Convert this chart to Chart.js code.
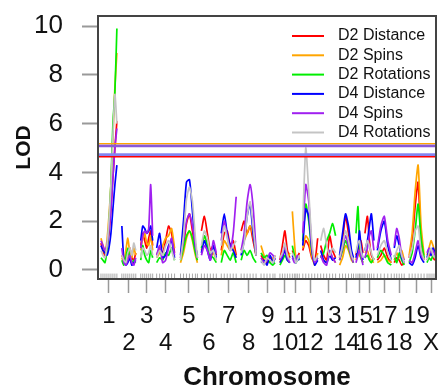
<!DOCTYPE html>
<html>
<head>
<meta charset="utf-8">
<script src="https://cdn.jsdelivr.net/npm/chart.js@4.4.1/dist/chart.umd.min.js"></script>
<style>
  html, body { margin: 0; padding: 0; background: #fff; }
</style>
</head>
<body>
<canvas id="lod-chart" width="441" height="389"></canvas>
<script>
const chromosomes = ["1", "2", "3", "4", "5", "6", "7", "8", "9", "10",
  "11", "12", "13", "14", "15", "16", "17", "18", "19", "X"];

// marker positions along the genome, one list per chromosome
const positions = [
  [3, 5, 7, 9, 11, 13, 15, 17, 19],
  [24, 26, 28, 30, 32, 34, 36, 38],
  [43, 45, 47, 49, 51, 53, 55],
  [59, 62, 65, 68, 71, 74, 77],
  [83, 86, 89, 92, 95, 98, 100],
  [104, 107, 110, 113, 116, 119],
  [124, 127, 130, 133, 136, 139],
  [144, 147, 150, 153, 156, 159],
  [164, 167, 170, 173, 176, 178],
  [183, 185.5, 188, 190.5, 193],
  [195.5, 197.5, 199, 200.5, 202.5],
  [206, 209, 212, 215, 218, 221],
  [224, 227, 230, 233, 236, 239],
  [243, 246, 249, 252, 255, 257],
  [259.5, 261.5, 263, 264.5, 266.5],
  [268.5, 271, 273, 275, 277.5],
  [281, 284.5, 288, 291.5, 295],
  [298, 300.5, 303, 305.5, 308],
  [313, 316, 319, 322, 325, 328],
  [331, 333, 335, 337, 339]
];

const d2Distance = [
  [1.1, 0.8, 0.6, 0.9, 1.5, 2.5, 3.8, 5.0, 6.1],
  [0.6, 0.4, 0.3, 0.6, 0.9, 0.5, 0.4, 0.7],
  [1.0, 1.5, 1.2, 0.9, 1.3, 1.6, 1.0],
  [0.6, 0.9, 0.7, 1.2, 1.8, 1.5, 0.7],
  [0.5, 1.0, 1.9, 2.3, 1.6, 0.8, 0.5],
  [1.6, 2.2, 1.5, 0.8, 1.0, 0.6],
  [0.8, 1.5, 1.6, 1.0, 1.2, 0.6],
  [1.6, 2.0, 1.5, 1.8, 1.2, 0.6],
  [0.6, 0.4, 0.3, 0.5, 0.4, 0.6],
  [0.4, 1.0, 1.6, 0.8, 0.5],
  [0.8, 0.6, 0.4, 0.5, 0.7],
  [0.8, 1.2, 1.0, 0.5, 0.3, 1.3],
  [1.0, 0.6, 0.4, 1.4, 0.8, 0.5],
  [0.5, 1.2, 2.2, 1.5, 0.6, 0.4],
  [0.6, 1.0, 0.8, 1.2, 0.7],
  [1.5, 2.2, 1.2, 0.6, 0.4],
  [0.4, 0.6, 0.9, 0.5, 0.3],
  [0.3, 0.5, 0.4, 0.2, 0.3],
  [0.5, 1.2, 2.6, 3.6, 1.2, 0.4],
  [0.4, 0.6, 0.8, 0.5, 0.4]
];

const d2Spins = [
  [1.3, 1.0, 0.7, 1.2, 2.2, 3.5, 5.5, 7.5, 8.9],
  [0.5, 0.3, 0.8, 1.3, 0.7, 0.5, 0.9, 0.6],
  [0.8, 1.3, 1.5, 1.1, 1.0, 1.4, 0.8],
  [0.5, 0.7, 1.0, 1.3, 1.4, 1.7, 0.9],
  [0.3, 0.7, 1.3, 1.6, 1.2, 0.6, 0.3],
  [0.8, 1.4, 1.0, 0.5, 0.7, 0.4],
  [0.6, 1.2, 1.0, 0.8, 0.9, 0.5],
  [0.8, 1.2, 1.5, 1.8, 1.4, 0.6],
  [1.0, 0.6, 0.4, 0.3, 0.5, 0.4],
  [0.3, 0.6, 0.9, 0.5, 0.7],
  [2.4, 1.2, 0.5, 0.4, 0.6],
  [0.9, 1.4, 1.2, 0.6, 0.2, 0.7],
  [0.6, 0.4, 0.3, 0.7, 0.5, 0.3],
  [0.2, 0.5, 1.0, 0.8, 0.4, 0.3],
  [0.4, 0.8, 0.6, 0.5, 0.3],
  [0.7, 0.8, 0.5, 0.4, 0.3],
  [0.3, 0.4, 0.6, 0.4, 0.3],
  [0.4, 0.7, 0.5, 0.8, 0.4],
  [0.6, 1.5, 3.2, 4.3, 1.8, 0.6],
  [0.6, 0.9, 1.2, 1.0, 0.7]
];

const d2Rotations = [
  [0.5, 0.4, 0.3, 0.8, 1.8, 3.5, 6.0, 7.3, 9.9],
  [0.4, 0.2, 0.5, 0.9, 0.5, 0.3, 0.4, 0.3],
  [0.4, 1.0, 0.6, 0.4, 0.3, 0.8, 0.5],
  [0.3, 0.5, 0.4, 0.7, 0.6, 0.9, 0.4],
  [0.4, 0.9, 1.4, 1.6, 1.3, 0.7, 0.4],
  [0.9, 1.4, 1.0, 0.6, 0.5, 0.3],
  [0.3, 0.8, 0.6, 0.4, 0.7, 0.3],
  [0.4, 0.8, 0.6, 0.8, 0.5, 0.3],
  [0.7, 0.5, 0.6, 0.3, 0.2, 0.3],
  [0.2, 0.4, 0.6, 0.4, 0.3],
  [1.0, 0.6, 0.3, 0.4, 0.5],
  [1.2, 2.7, 2.0, 0.8, 0.3, 0.5],
  [0.5, 0.7, 1.2, 1.5, 1.9, 1.4],
  [0.4, 0.8, 1.2, 0.9, 0.5, 0.3],
  [1.5, 2.6, 1.2, 0.5, 0.3],
  [0.5, 0.6, 0.4, 0.3, 0.5],
  [0.5, 0.8, 0.6, 0.3, 0.2],
  [0.6, 0.3, 0.7, 0.4, 0.2],
  [0.3, 0.7, 1.6, 2.7, 1.3, 0.5],
  [0.3, 0.5, 0.4, 0.6, 0.5]
];

const d4Distance = [
  [1.0, 0.8, 0.7, 0.6, 0.9, 1.5, 2.5, 3.5, 4.3],
  [1.8, 0.4, 0.2, 0.3, 0.5, 0.2, 0.3, 0.4],
  [1.2, 1.8, 1.7, 1.5, 1.6, 1.8, 1.2],
  [0.9, 1.5, 0.5, 0.6, 1.0, 1.2, 0.5],
  [0.6, 2.0, 3.6, 3.7, 2.4, 1.0, 0.6],
  [0.7, 1.2, 0.8, 0.4, 1.0, 0.5],
  [1.5, 2.3, 1.5, 1.0, 0.8, 0.5],
  [0.6, 1.2, 2.2, 2.7, 1.5, 0.6],
  [0.3, 0.4, 0.2, 0.6, 0.3, 0.5],
  [0.3, 0.5, 0.8, 0.4, 0.3],
  [0.6, 0.4, 0.3, 0.5, 0.4],
  [1.0, 2.5, 2.2, 0.9, 0.2, 0.4],
  [0.8, 0.4, 0.3, 0.6, 0.4, 0.5],
  [0.6, 1.5, 2.3, 1.8, 0.8, 0.5],
  [0.5, 0.9, 1.6, 1.0, 0.4],
  [0.8, 1.2, 1.8, 2.3, 1.2],
  [0.8, 1.6, 2.0, 1.0, 0.4],
  [0.9, 1.4, 1.0, 0.5, 0.3],
  [0.3, 0.2, 0.5, 1.0, 0.5, 0.3],
  [0.5, 0.8, 0.6, 0.9, 0.7]
];

const d4Spins = [
  [1.2, 1.0, 0.8, 1.0, 1.6, 2.5, 3.8, 5.0, 5.8],
  [0.9, 0.3, 0.2, 0.4, 0.6, 0.3, 0.2, 0.5],
  [0.9, 1.4, 1.6, 1.5, 1.7, 3.5, 1.4],
  [0.6, 1.0, 0.3, 0.4, 0.9, 1.3, 0.6],
  [0.5, 1.2, 2.0, 2.3, 1.8, 1.0, 0.5],
  [0.6, 1.0, 0.8, 0.4, 1.2, 0.7],
  [1.2, 2.0, 1.4, 0.8, 1.5, 3.0],
  [0.8, 1.5, 2.8, 3.5, 2.6, 0.8],
  [0.5, 0.3, 0.4, 0.7, 0.6, 0.4],
  [0.4, 0.6, 1.0, 0.5, 0.3],
  [0.5, 0.3, 0.4, 0.6, 0.5],
  [1.5, 3.5, 2.8, 1.0, 0.3, 0.5],
  [0.6, 0.3, 0.2, 0.8, 0.5, 0.3],
  [0.4, 0.9, 1.4, 1.0, 0.5, 0.3],
  [0.3, 0.6, 0.8, 0.6, 0.2],
  [0.5, 0.9, 1.4, 1.6, 0.8],
  [0.9, 1.8, 2.2, 1.2, 0.6],
  [1.0, 1.7, 1.3, 0.6, 0.4],
  [0.4, 0.3, 0.7, 1.2, 0.6, 0.4],
  [0.7, 0.9, 0.7, 0.8, 0.6]
];

const d4Rotations = [
  [0.8, 0.6, 0.5, 1.0, 2.0, 3.5, 5.5, 7.2, 6.0],
  [0.6, 0.4, 0.3, 0.7, 0.9, 0.6, 1.1, 0.8],
  [0.5, 0.9, 0.8, 0.6, 0.7, 1.0, 0.6],
  [0.5, 0.8, 0.6, 1.0, 1.2, 0.8, 0.4],
  [0.4, 1.4, 2.9, 3.4, 2.8, 1.3, 0.5],
  [1.0, 1.6, 1.3, 0.7, 0.8, 0.4],
  [1.0, 1.8, 1.3, 0.8, 1.0, 1.2],
  [0.7, 1.1, 2.2, 2.8, 1.8, 0.6],
  [0.4, 0.2, 0.5, 0.4, 0.3, 0.6],
  [0.5, 0.7, 1.1, 0.6, 0.4],
  [0.7, 0.5, 0.3, 0.4, 0.6],
  [2.0, 5.0, 3.2, 1.2, 0.4, 0.6],
  [1.2, 1.7, 1.0, 0.6, 0.9, 0.7],
  [0.5, 1.0, 1.6, 1.2, 0.6, 0.4],
  [0.7, 1.1, 1.2, 0.8, 0.5],
  [0.8, 1.2, 1.0, 0.7, 0.4],
  [0.6, 1.0, 1.2, 0.7, 0.4],
  [0.5, 0.8, 1.0, 0.6, 0.3],
  [0.5, 0.9, 1.6, 1.8, 0.8, 0.4],
  [0.4, 0.7, 0.9, 0.6, 0.5]
];

const seriesNames = ["D2 Distance", "D2 Spins", "D2 Rotations",
  "D4 Distance", "D4 Spins", "D4 Rotations"];
const seriesValues = [d2Distance, d2Spins, d2Rotations, d4Distance, d4Spins, d4Rotations];
const seriesColors = ["#ff0000", "#ffa500", "#00ee00", "#0000ff", "#a020f0", "#c4c4c4"];

// significance thresholds (LOD)
const thresholdValues = [5.18, 5.09, 4.73, 4.64];
const thresholdColors = ["#ffa500", "#8a5ad6", "#8484f0", "#ff0000"];
const thresholdWidths = [1.2, 2.8, 2.8, 1.5];

const yTicks = [0, 2, 4, 6, 8, 10];

const xMin = 0, xMax = 340;
const yMin = -0.37, yMax = 10.41;

// chromosome centers for the tick labels
const chrCenters = positions.map(p => (Math.min(...p) + Math.max(...p)) / 2);

function toSeries(values) {
  let out = [];
  positions.forEach((p, c) => {
    p.forEach((x, i) => out.push({ x: x, y: values[c][i] }));
    out.push({ x: p[p.length - 1] + 0.5, y: null }); // break between chromosomes
  });
  return out;
}

const datasets = [];

seriesNames.forEach((name, i) => {
  datasets.push({
    type: "line",
    label: name,
    data: toSeries(seriesValues[i]),
    borderColor: seriesColors[i],
    borderWidth: 1.7,
    pointRadius: 0,
    tension: 0.2,
    spanGaps: false,
    order: 10 - i,
  });
});

thresholdValues.forEach((t, i) => {
  datasets.push({
    type: "line",
    label: "threshold",
    data: [{ x: xMin, y: t }, { x: xMax, y: t }],
    borderColor: thresholdColors[i],
    borderWidth: thresholdWidths[i],
    pointRadius: 0,
    order: i,
  });
});

// rug of marker positions along the bottom
datasets.push({
  type: "scatter",
  label: "markers",
  data: positions.flat().map(x => ({ x: x, y: -0.25 })),
  pointStyle: "line",
  pointRadius: 2.5,
  pointRotation: 90,
  pointBorderColor: "#aaaaaa",
  pointBorderWidth: 1,
  showLine: false,
  order: 20,
});

const boxPlugin = {
  id: "box",
  afterDraw(chart) {
    const { ctx, chartArea } = chart;
    ctx.save();
    ctx.strokeStyle = "#444";
    ctx.lineWidth = 2;
    ctx.strokeRect(chartArea.left, chartArea.top, chartArea.right - chartArea.left, chartArea.bottom - chartArea.top);
    ctx.restore();
  },
};

const legendPlugin = {
  id: "insideLegend",
  afterDraw(chart) {
    const { ctx, chartArea } = chart;
    const x0 = chartArea.right - 144;
    const y0 = chartArea.top + 20;
    ctx.save();
    ctx.font = '16px "Liberation Sans", Arial, sans-serif';
    ctx.textBaseline = "middle";
    ctx.textAlign = "left";
    seriesNames.forEach((name, i) => {
      const y = y0 + i * 19.3;
      ctx.strokeStyle = seriesColors[i];
      ctx.lineWidth = 2;
      ctx.beginPath();
      ctx.moveTo(x0, y);
      ctx.lineTo(x0 + 32, y);
      ctx.stroke();
      ctx.fillStyle = "#111";
      ctx.fillText(name, x0 + 46, y);
    });
    ctx.restore();
  },
};

const ctx = document.getElementById("lod-chart");

new Chart(ctx, {
  data: { datasets: datasets },
  options: {
    responsive: false,
    animation: false,
    devicePixelRatio: 1,
    layout: { padding: { top: 16, right: 3, left: 0, bottom: 0 } },
    plugins: {
      legend: { display: false },
      tooltip: { enabled: false },
    },
    scales: {
      x: {
        type: "linear",
        min: xMin,
        max: xMax,
        afterFit: (s) => { s.height = 110; s.paddingLeft = 0; s.paddingRight = 0; },
        afterBuildTicks: (s) => { s.ticks = chrCenters.map(v => ({ value: v })); },
        border: { display: false },
        grid: {
          drawOnChartArea: false,
          drawTicks: true,
          tickLength: 14,
          tickColor: "#999",
          tickWidth: 1.5,
        },
        ticks: {
          autoSkip: false,
          maxRotation: 0,
          minRotation: 0,
          padding: 10,
          color: "#111",
          font: { family: '"Liberation Sans", Arial, sans-serif', size: 24, lineHeight: "27px" },
          callback: (value, index) => (index % 2 === 0 ? [chromosomes[index], ""] : ["", chromosomes[index]]),
        },
        title: {
          display: true,
          text: "Chromosome",
          color: "#111",
          padding: { top: 0, bottom: 0 },
          font: { family: '"Liberation Sans", Arial, sans-serif', size: 26, weight: "bold", lineHeight: 0.85 },
        },
      },
      y: {
        type: "linear",
        min: yMin,
        max: yMax,
        afterFit: (s) => { s.width = 98; s.paddingTop = 0; s.paddingBottom = 0; },
        afterBuildTicks: (s) => { s.ticks = yTicks.map(v => ({ value: v })); },
        border: { display: false },
        grid: {
          drawOnChartArea: false,
          drawTicks: true,
          tickLength: 16,
          tickColor: "#999",
          tickWidth: 2,
        },
        ticks: {
          padding: 19,
          color: "#111",
          font: { family: '"Liberation Sans", Arial, sans-serif', size: 26 },
        },
        title: {
          display: true,
          text: "LOD",
          color: "#111",
          padding: { top: 12, bottom: 0 },
          font: { family: '"Liberation Sans", Arial, sans-serif', size: 21, weight: "bold" },
        },
      },
    },
  },
  plugins: [boxPlugin, legendPlugin],
});
</script>
</body>
</html>
